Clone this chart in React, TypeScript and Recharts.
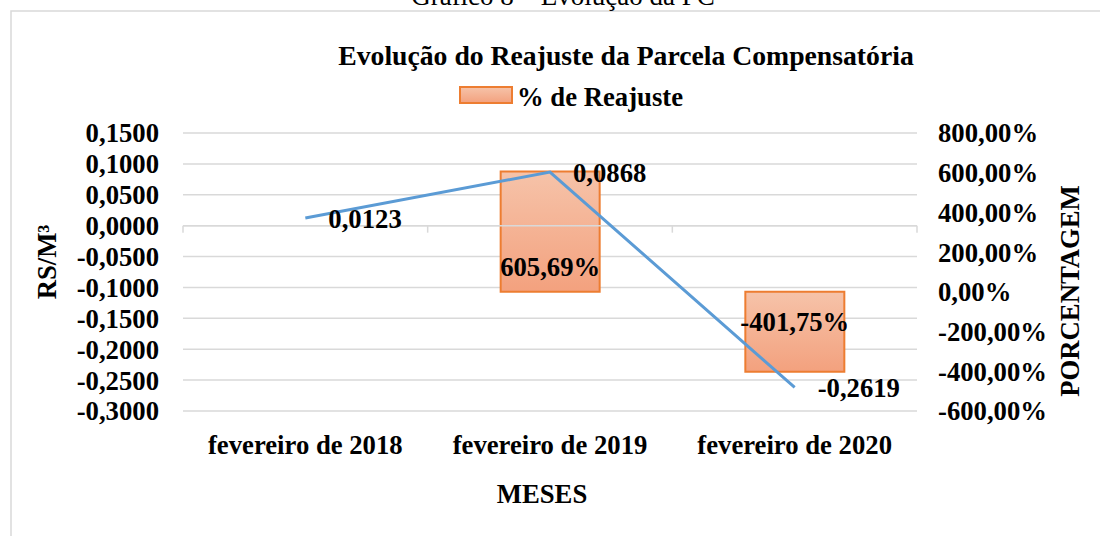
import {
  ComposedChart,
  Bar,
  Line,
  XAxis,
  YAxis,
  CartesianGrid,
  ReferenceLine,
  LabelList,
} from "recharts";

const months = ["fevereiro de 2018", "fevereiro de 2019", "fevereiro de 2020"];
const valorM3 = [0.0123, 0.0868, -0.2619];
const reajuste = [0, 605.69, -401.75];
const leftTicks = [0.15, 0.1, 0.05, 0, -0.05, -0.1, -0.15, -0.2, -0.25, -0.3];
const rightTicks = [800, 600, 400, 200, 0, -200, -400, -600];

const data = months.map((mes, i) => ({
  mes,
  valor: valorM3[i],
  reajuste: reajuste[i],
}));

const FONT = "'Liberation Serif', 'Times New Roman', serif";
const TXT = { fontFamily: FONT, fontWeight: 700, fontSize: 26.7, fill: "#000" };

const fmt4 = (v: number) => v.toFixed(4).replace(".", ",");
const fmtPct = (v: number) => v.toFixed(2).replace(".", ",") + "%";

function BarValueLabel(props: any) {
  const { x, y, width, height, value } = props;
  if (x == null || y == null) return null;
  const h = height || 0;
  const top = Math.min(y, y + h);
  const bottom = Math.max(y, y + h);
  const cy = value >= 0 ? bottom - 25 : top + 30;
  return (
    <text
      x={x + width / 2}
      y={cy}
      textAnchor="middle"
      dominantBaseline="central"
      {...TXT}
    >
      {fmtPct(Number(value))}
    </text>
  );
}

function LineValueLabel(props: any) {
  const { x, y, value } = props;
  if (x == null || y == null) return null;
  return (
    <text x={x + 23} y={y + 1} textAnchor="start" dominantBaseline="central" {...TXT}>
      {fmt4(Number(value))}
    </text>
  );
}

// zero line of the left axis, with the category tick marks hanging below it
function ZeroAxis(props: any) {
  const { x1, y1, x2 } = props;
  if (x1 == null || y1 == null) return null;
  const step = (x2 - x1) / months.length;
  return (
    <g>
      <line x1={x1} y1={y1} x2={x2} y2={y1} stroke="#d9d9d9" strokeWidth={1.5} />
      {[0, 1, 2, 3].map((i) => (
        <line
          key={i}
          x1={x1 + i * step}
          x2={x1 + i * step}
          y1={y1}
          y2={y1 + 7}
          stroke="#d9d9d9"
          strokeWidth={1.5}
        />
      ))}
    </g>
  );
}

export default function App() {
  return (
    <div
      style={{
        position: "absolute",
        left: 0,
        top: 0,
        width: 1100,
        height: 536,
        overflow: "hidden",
        background: "#fff",
      }}
    >
      <svg width={1100} height={536} style={{ position: "absolute", left: 0, top: 0 }}>
        <rect x={11} y={11} width={1200} height={700} fill="none" stroke="#d9d9d9" strokeWidth={1.5} />
      </svg>
      <div style={{ position: "absolute", left: 0, top: 0 }}>
        <ComposedChart
          width={1100}
          height={536}
          data={data}
          margin={{ top: 133, right: 0, bottom: 85, left: 0 }}
        >
          <defs>
            <linearGradient id="barFill" x1="0" y1="0" x2="0" y2="1">
              <stop offset="0%" stopColor="#f6c3a9" />
              <stop offset="100%" stopColor="#f3a17e" />
            </linearGradient>
          </defs>
          <CartesianGrid horizontal vertical={false} stroke="#d9d9d9" strokeWidth={1.5} />
          <XAxis
            dataKey="mes"
            height={40}
            axisLine={false}
            tickLine={false}
            tickSize={0}
            tickMargin={24}
            tick={TXT}
            interval={0}
          />
          <YAxis
            domain={[-0.3, 0.15]}
            ticks={leftTicks}
            width={183}
            axisLine={false}
            tickLine={false}
            tickSize={0}
            tickMargin={24}
            tick={TXT}
            tickFormatter={fmt4}
            interval={0}
          />
          <YAxis
            yAxisId="right"
            orientation="right"
            domain={[-600, 800]}
            ticks={rightTicks}
            width={183}
            axisLine={false}
            tickLine={false}
            tickSize={0}
            tickMargin={21}
            tick={{ ...TXT, textAnchor: "start" }}
            tickFormatter={fmtPct}
            interval={0}
          />
          <Bar
            yAxisId="right"
            dataKey="reajuste"
            barSize={99}
            fill="url(#barFill)"
            stroke="#ed7d31"
            strokeWidth={2}
            isAnimationActive={false}
          >
            <LabelList dataKey="reajuste" content={BarValueLabel} />
          </Bar>
          <ReferenceLine y={0} shape={ZeroAxis} />
          <Line
            dataKey="valor"
            type="linear"
            stroke="#5b9bd5"
            strokeWidth={3}
            dot={false}
            activeDot={false}
            isAnimationActive={false}
          >
            <LabelList dataKey="valor" content={LineValueLabel} />
          </Line>
        </ComposedChart>
      </div>
      <svg
        width={1100}
        height={536}
        style={{ position: "absolute", left: 0, top: 0, pointerEvents: "none" }}
      >
        <defs>
          <linearGradient id="legFill" x1="0" y1="0" x2="0" y2="1">
            <stop offset="0%" stopColor="#f6c3a9" />
            <stop offset="100%" stopColor="#f3a17e" />
          </linearGradient>
        </defs>
        <text x={563} y={5} textAnchor="middle" fontFamily={FONT} fontSize={27} fill="#000">
          Gráfico 8 – Evolução da PC
        </text>
        <text x={626} y={65} textAnchor="middle" {...TXT} fontSize={27.7}>
          Evolução do Reajuste da Parcela Compensatória
        </text>
        <rect x={460} y={87} width={52} height={16} fill="url(#legFill)" stroke="#ed7d31" strokeWidth={2} />
        <text x={517} y={106} textAnchor="start" {...TXT}>
          % de Reajuste
        </text>
        <text
          transform="translate(47 262) rotate(-90)"
          textAnchor="middle"
          dominantBaseline="central"
          {...TXT}
        >
          RS/M³
        </text>
        <text
          transform="translate(1070 291) rotate(-90)"
          textAnchor="middle"
          dominantBaseline="central"
          {...TXT}
        >
          PORCENTAGEM
        </text>
        <text x={542} y={494} textAnchor="middle" dominantBaseline="central" {...TXT}>
          MESES
        </text>
      </svg>
    </div>
  );
}
